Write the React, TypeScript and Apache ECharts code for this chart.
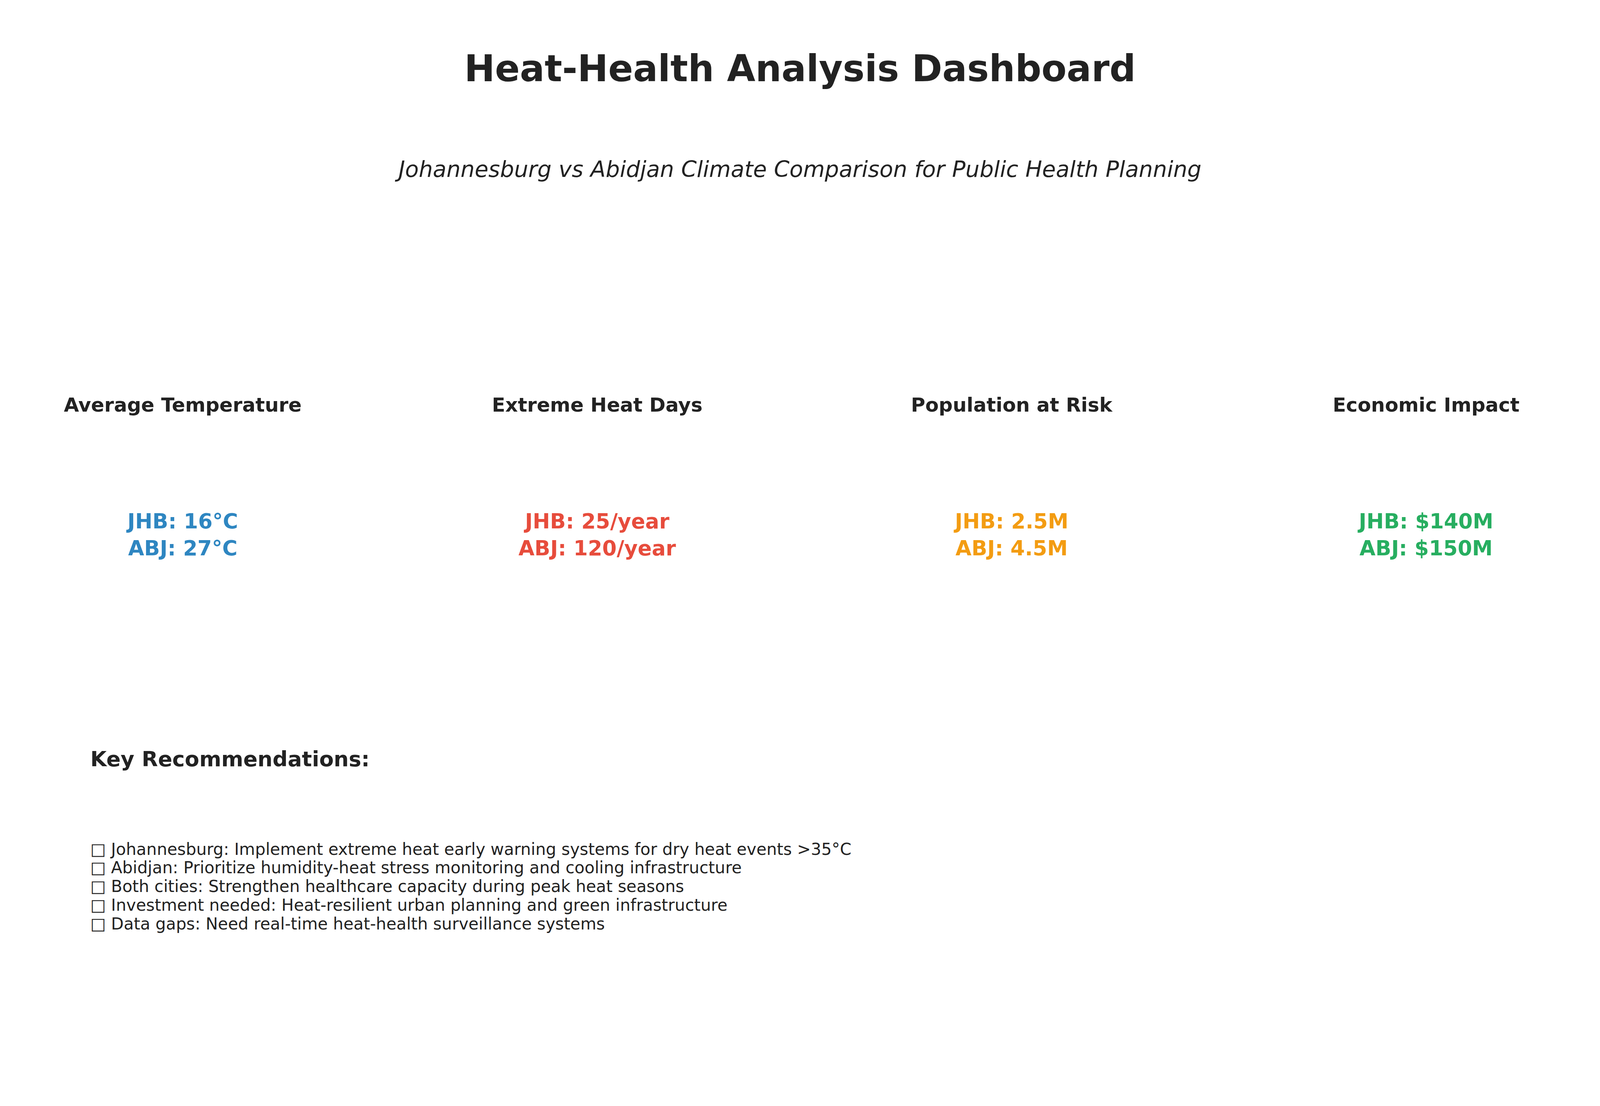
import * as echarts from "echarts";
import { useEffect, useRef } from "react";

const TITLE = "Heat-Health Analysis Dashboard";
const SUBTITLE = "Johannesburg vs Abidjan Climate Comparison for Public Health Planning";
const metricNames = ["Average Temperature", "Extreme Heat Days", "Population at Risk", "Economic Impact"];
const jhbValues = ["16°C", "25/year", "2.5M", "$140M"];
const abjValues = ["27°C", "120/year", "4.5M", "$150M"];
const metricColors = ["#2E86C1", "#E74C3C", "#F39C12", "#27AE60"];
const recommendations = [
  "Johannesburg: Implement extreme heat early warning systems for dry heat events >35°C",
  "Abidjan: Prioritize humidity-heat stress monitoring and cooling infrastructure",
  "Both cities: Strengthen healthcare capacity during peak heat seasons",
  "Investment needed: Heat-resilient urban planning and green infrastructure",
  "Data gaps: Need real-time heat-health surveillance systems",
];

const FONT = "DejaVu Sans";
const W = 4710;

export default function App() {
  const ref = useRef<HTMLDivElement>(null);

  useEffect(() => {
    const chart = echarts.init(ref.current!, null, { renderer: "svg" });
    // layout was measured on the 4710px reference, scale to the real viewport
    const s = chart.getWidth() / W;
    const f = (weight: string, size: number) => `${weight} ${Math.round(size * s)}px "${FONT}"`;
    const cardX = [538, 1758, 2978, 4198];
    const elements: any[] = [
      {
        type: "text", x: (W / 2) * s, y: 202 * s,
        style: { text: TITLE, font: f("bold", 108), fill: "#222", align: "center", verticalAlign: "middle" },
      },
      {
        type: "text", x: (W / 2) * s, y: 498 * s,
        style: { text: SUBTITLE, font: f("italic", 66), fill: "#222", align: "center", verticalAlign: "middle" },
      },
    ];
    metricNames.forEach((name, i) => {
      elements.push({
        type: "text", x: cardX[i] * s, y: 1193 * s,
        style: { text: name, font: f("bold", 57), fill: "#222", align: "center", verticalAlign: "middle" },
      });
      elements.push({
        type: "text", x: cardX[i] * s, y: 1574 * s,
        style: {
          text: `JHB: ${jhbValues[i]}\nABJ: ${abjValues[i]}`,
          font: f("bold", 61), lineHeight: 79 * s, fill: metricColors[i],
          align: "center", verticalAlign: "middle",
        },
      });
    });
    elements.push({
      type: "text", x: 266 * s, y: 2235 * s,
      style: { text: "Key Recommendations:", font: f("bold", 62), fill: "#222", align: "left", verticalAlign: "middle" },
    });
    recommendations.forEach((r, i) => {
      elements.push({
        type: "text", x: 266 * s, y: (2500 + i * 55) * s,
        style: { text: "□ " + r, font: f("normal", 48), fill: "#222", align: "left", verticalAlign: "middle" },
      });
    });
    chart.setOption({ animation: false, backgroundColor: "#fff", graphic: { elements } });
    return () => chart.dispose();
  }, []);

  return <div ref={ref} style={{ position: "fixed", left: 0, top: 0, width: "100vw", height: "100vh" }} />;
}
